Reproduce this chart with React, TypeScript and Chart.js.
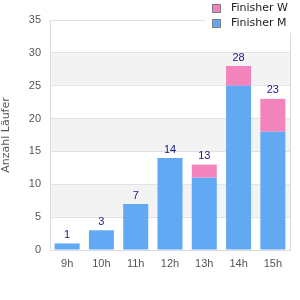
import React, { useEffect, useRef } from "react";
import { Chart, registerables } from "chart.js";

Chart.register(...registerables);

const categories = ["9h", "10h", "11h", "12h", "13h", "14h", "15h"];
const finisherM = [1, 3, 7, 14, 11, 25, 18];
const finisherW = [0, 0, 0, 0, 2, 3, 5];
const totals = [1, 3, 7, 14, 13, 28, 23];
const seriesNames = ["Finisher W", "Finisher M"];
const yTitle = "Anzahl Läufer";

const PINK = "#f384bb";
const BLUE = "#62a9f4";

const bandsPlugin = {
  id: "bands",
  beforeDatasetsDraw(chart: any) {
    const { ctx, chartArea } = chart;
    const y = chart.scales.y;
    ctx.save();
    ctx.fillStyle = "#f3f3f3";
    [[5, 10], [15, 20], [25, 30]].forEach(([a, b]) => {
      const y1 = y.getPixelForValue(b);
      const y2 = y.getPixelForValue(a);
      ctx.fillRect(chartArea.left + 1, y1 + 0.5, chartArea.right - chartArea.left - 1, y2 - y1 - 1);
    });
    ctx.restore();
  },
};

const overlayPlugin = {
  id: "overlay",
  afterDatasetsDraw(chart: any) {
    const { ctx, chartArea } = chart;
    const x = chart.scales.x;
    const y = chart.scales.y;
    ctx.save();
    // right border
    ctx.strokeStyle = "#dcdcdc";
    ctx.lineWidth = 1;
    ctx.beginPath();
    ctx.moveTo(Math.round(chartArea.right) + 0.5, chartArea.top);
    ctx.lineTo(Math.round(chartArea.right) + 0.5, chartArea.bottom);
    ctx.stroke();
    // totals labels
    ctx.fillStyle = "#1a1a8c";
    ctx.font = "11px 'Liberation Sans', Arial, sans-serif";
    ctx.textAlign = "center";
    ctx.textBaseline = "bottom";
    totals.forEach((t, i) => {
      ctx.fillText(String(t), x.getPixelForValue(i), y.getPixelForValue(t) - 3);
    });
    // legend
    ctx.fillStyle = "#ffffff";
    ctx.fillRect(205, 0, 95, 33);
    const colors = [PINK, BLUE];
    ctx.font = "11px 'DejaVu Sans', sans-serif";
    ctx.textAlign = "left";
    ctx.textBaseline = "middle";
    seriesNames.forEach((n, i) => {
      const cy = 8.5 + i * 15;
      ctx.fillStyle = colors[i];
      ctx.fillRect(213, cy - 3.5, 7, 7);
      ctx.strokeStyle = "#808080";
      ctx.strokeRect(212.5, cy - 4, 8, 8);
      ctx.fillStyle = "#222222";
      ctx.fillText(n, 231, cy);
    });
    ctx.restore();
  },
};

export default function App() {
  const ref = useRef<HTMLCanvasElement>(null);
  useEffect(() => {
    document.body.style.margin = "0";
    const chart = new Chart(ref.current!, {
      type: "bar",
      data: {
        labels: categories,
        datasets: [
          { label: seriesNames[1], data: finisherM, backgroundColor: BLUE, stack: "s", categoryPercentage: 0.73, barPercentage: 1 },
          { label: seriesNames[0], data: finisherW, backgroundColor: PINK, stack: "s", categoryPercentage: 0.73, barPercentage: 1 },
        ],
      },
      options: {
        responsive: false,
        animation: false,
        layout: { padding: { top: 20, right: 10, left: 0, bottom: 0 } },
        plugins: { legend: { display: false }, tooltip: { enabled: false } },
        scales: {
          x: {
            stacked: true,
            grid: { display: false, drawTicks: false },
            border: { color: "#dcdcdc" },
            ticks: { color: "#555", font: { family: "'Liberation Sans', Arial, sans-serif", size: 11 }, padding: 7 },
            afterFit: (s: any) => { s.height = 50; },
          },
          y: {
            stacked: true,
            min: 0,
            max: 35,
            grid: { color: "#e0e0e0", drawTicks: false },
            border: { color: "#dcdcdc" },
            ticks: { stepSize: 5, color: "#555", font: { family: "'Liberation Sans', Arial, sans-serif", size: 11 }, padding: 9 },
            title: { display: true, text: yTitle, color: "#555", font: { family: "'DejaVu Sans', sans-serif", size: 11 }, padding: 0 },
            afterFit: (s: any) => { s.width = 50; },
          },
        },
      },
      plugins: [bandsPlugin, overlayPlugin],
    });
    return () => chart.destroy();
  }, []);
  return <canvas ref={ref} width={300} height={300} style={{ display: "block" }} />;
}
